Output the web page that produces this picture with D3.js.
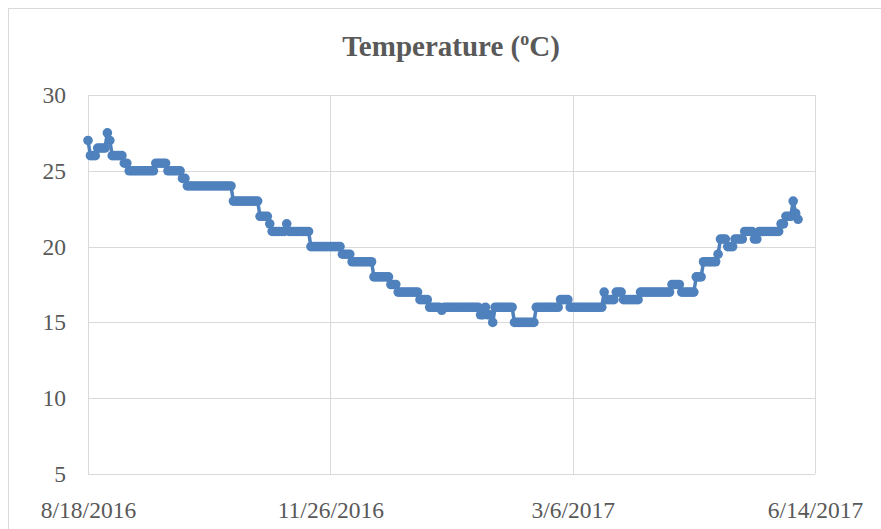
<!DOCTYPE html>
<html>
<head>
<meta charset="utf-8">
<script src="https://cdn.jsdelivr.net/npm/d3@7"></script>
<style>
  body { margin: 0; background: #fff; }
  svg { display: block; }
</style>
</head>
<body>
<div id="temp-container"></div>
<script>
// daily readings, first one on 8/18/2016
const startDate = new Date(2016, 7, 18);
const temps = [
  27, 26, 26, 26, 26.5, 26.5, 26.5, 26.5, 27.5, 27,
  26, 26, 26, 26, 26, 25.5, 25.5, 25, 25, 25,
  25, 25, 25, 25, 25, 25, 25, 25, 25.5, 25.5,
  25.5, 25.5, 25.5, 25, 25, 25, 25, 25, 25, 24.5,
  24.5, 24, 24, 24, 24, 24, 24, 24, 24, 24,
  24, 24, 24, 24, 24, 24, 24, 24, 24, 24,
  23, 23, 23, 23, 23, 23, 23, 23, 23, 23,
  23, 22, 22, 22, 22, 21.5, 21, 21, 21, 21,
  21, 21, 21.5, 21, 21, 21, 21, 21, 21, 21,
  21, 21, 20, 20, 20, 20, 20, 20, 20, 20,
  20, 20, 20, 20, 20, 19.5, 19.5, 19.5, 19.5, 19,
  19, 19, 19, 19, 19, 19, 19, 19, 18, 18,
  18, 18, 18, 18, 18, 17.5, 17.5, 17.5, 17, 17,
  17, 17, 17, 17, 17, 17, 17, 16.5, 16.5, 16.5,
  16.5, 16, 16, 16, 16, 16, 15.8, 16, 16, 16,
  16, 16, 16, 16, 16, 16, 16, 16, 16, 16,
  16, 16, 15.5, 15.5, 16, 15.5, 15.5, 15, 16, 16,
  16, 16, 16, 16, 16, 16, 15, 15, 15, 15,
  15, 15, 15, 15, 15, 16, 16, 16, 16, 16,
  16, 16, 16, 16, 16, 16.5, 16.5, 16.5, 16.5, 16,
  16, 16, 16, 16, 16, 16, 16, 16, 16, 16,
  16, 16, 16, 17, 16.5, 16.5, 16.5, 16.5, 17, 17,
  17, 16.5, 16.5, 16.5, 16.5, 16.5, 16.5, 16.5, 17, 17,
  17, 17, 17, 17, 17, 17, 17, 17, 17, 17,
  17, 17.5, 17.5, 17.5, 17.5, 17, 17, 17, 17, 17,
  17, 18, 18, 18, 19, 19, 19, 19, 19, 19,
  19.5, 20.5, 20.5, 20.5, 20, 20, 20, 20.5, 20.5, 20.5,
  20.5, 21, 21, 21, 21, 20.5, 20.5, 21, 21, 21,
  21, 21, 21, 21, 21, 21, 21.5, 21.5, 22, 22,
  22, 23, 22.2, 21.8
];
const xTickDates = [new Date(2016, 7, 18), new Date(2016, 10, 26), new Date(2017, 2, 6), new Date(2017, 5, 14)];
const yTicks = [5, 10, 15, 20, 25, 30];

//------------------------1. PREPARATION------------------------//
const W = 881, H = 529;
const margin = { top: 95, right: 66, bottom: 55, left: 88 };
const width = W - margin.left - margin.right;
const height = H - margin.top - margin.bottom;

const svg = d3.select("#temp-container").append("svg")
    .attr("width", W)
    .attr("height", H);

// chart area border (cut off at right & bottom like the original)
svg.append("rect")
    .attr("x", 8.5).attr("y", 8.5)
    .attr("width", 1000).attr("height", 1000)
    .style("fill", "#fff")
    .style("stroke", "#d9d9d9");

const data = temps.map(function(t, i) {
    return { date: d3.timeDay.offset(startDate, i), temp: t };
});

//----------------------------SCALES----------------------------//
const xScale = d3.scaleTime()
    .domain([xTickDates[0], xTickDates[xTickDates.length - 1]])
    .range([0, width]);
const yScale = d3.scaleLinear().domain([5, 30]).range([height, 0]);

const g = svg.append("g").attr("transform", "translate(" + margin.left + "," + margin.top + ")");

//-----------------------------AXES-----------------------------//
const yaxis = d3.axisLeft(yScale)
    .tickValues(yTicks)
    .tickSize(-width)
    .tickPadding(22);

const xaxis = d3.axisBottom(xScale)
    .tickValues(xTickDates)
    .tickFormat(d3.timeFormat("%-m/%-d/%Y"))
    .tickSize(-height)
    .tickPadding(0);

g.append("g")
    .attr("class", "y-axis")
    .call(yaxis)
    .call(function(a) { a.select(".domain").remove(); })
    .call(function(a) {
        a.selectAll("line").style("stroke", "#d9d9d9").attr("shape-rendering", "crispEdges");
        a.selectAll("text")
            .style("font-family", "'Liberation Serif', 'Times New Roman', serif")
            .style("font-size", "23.5px")
            .style("fill", "#595959");
    });

g.append("g")
    .attr("class", "x-axis")
    .attr("transform", "translate(0," + height + ")")
    .call(xaxis)
    .call(function(a) { a.select(".domain").remove(); })
    .call(function(a) {
        a.selectAll("line").style("stroke", "#d9d9d9").attr("shape-rendering", "crispEdges");
        a.selectAll("text")
            .attr("y", 44)
            .attr("dy", null)
            .style("font-family", "'Liberation Serif', 'Times New Roman', serif")
            .style("font-size", "23.5px")
            .style("fill", "#595959");
    });

//----------------------------TITLE-----------------------------//
const title = svg.append("text")
    .attr("x", 451)
    .attr("y", 56)
    .style("text-anchor", "middle")
    .style("font-family", "'Liberation Serif', 'Times New Roman', serif")
    .style("font-weight", "bold")
    .style("font-size", "29px")
    .style("fill", "#595959");
title.append("tspan").text("Temperature (");
title.append("tspan").attr("dy", -11).style("font-size", "18px").text("o");
title.append("tspan").attr("dy", 11).text("C)");

//----------------------------LINES-----------------------------//
const line = d3.line()
    .x(function(d) { return xScale(d.date); })
    .y(function(d) { return yScale(d.temp); });

g.append("path")
    .datum(data)
    .attr("d", line)
    .style("fill", "none")
    .style("stroke", "#4f81bd")
    .style("stroke-width", 3.5)
    .style("stroke-linejoin", "round");

g.selectAll(".dot")
    .data(data)
    .enter()
    .append("circle")
    .attr("class", "dot")
    .attr("cx", function(d) { return xScale(d.date); })
    .attr("cy", function(d) { return yScale(d.temp); })
    .attr("r", 4.8)
    .style("fill", "#4f81bd");
</script>
</body>
</html>
